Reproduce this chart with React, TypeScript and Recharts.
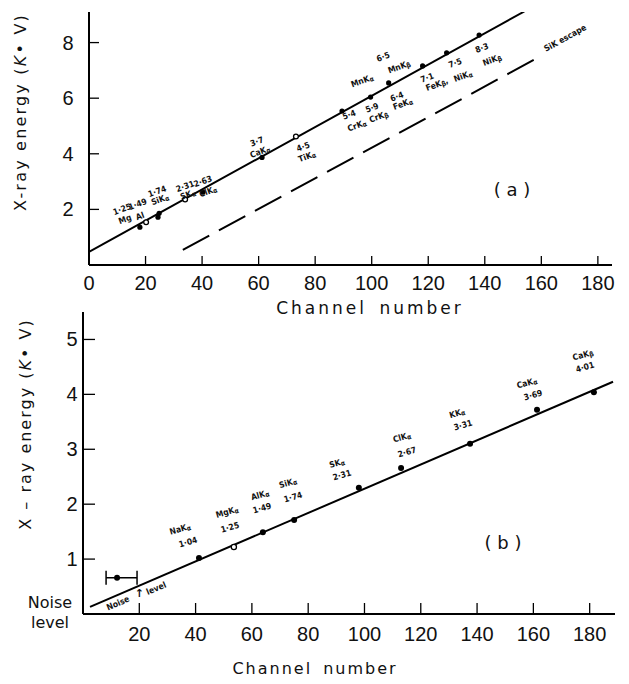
import React from 'react';
import { ScatterChart, Scatter, XAxis, YAxis, ErrorBar } from 'recharts';

const FONT = '"DejaVu Sans", sans-serif';
const TICK_FONT = '"Liberation Sans", Arial, sans-serif';
const SMALL_FONT = '"Liberation Sans Narrow", "DejaVu Sans Condensed", "Liberation Sans", sans-serif';

// ---------- Panel (a) ----------
const aTicksX = [0, 20, 40, 60, 80, 100, 120, 140, 160, 180];
const aTicksY = [2, 4, 6, 8];
const aFit = [
  { ch: 0, e: 0.47 },
  { ch: 154, e: 9.12 },
];
const aEscape = [
  { ch: 33.2, e: 0.54 },
  { ch: 157.4, e: 7.38 },
];
const aFilled = [
  { ch: 18.0, e: 1.36 },
  { ch: 24.4, e: 1.72 },
  { ch: 24.8, e: 1.86 },
  { ch: 40.3, e: 2.62 },
  { ch: 61.2, e: 3.87 },
  { ch: 89.5, e: 5.54 },
  { ch: 99.6, e: 6.04 },
  { ch: 106.0, e: 6.55 },
  { ch: 118.0, e: 7.16 },
  { ch: 126.5, e: 7.63 },
  { ch: 138.0, e: 8.27 },
];
const aOpen = [
  { ch: 20.2, e: 1.54 },
  { ch: 34.0, e: 2.36 },
  { ch: 73.2, e: 4.62 },
];
const aLabels = [
  { ch: 11.7, e: 2.01, text: '1·25' },
  { ch: 12.7, e: 1.65, text: 'Mg' },
  { ch: 17.2, e: 2.19, text: '1·49' },
  { ch: 18.0, e: 1.76, text: 'Al' },
  { ch: 24.1, e: 2.65, text: '1·74' },
  { ch: 25.1, e: 2.36, text: 'SiKα' },
  { ch: 34.0, e: 2.83, text: '2·31' },
  { ch: 35.0, e: 2.54, text: 'SKα' },
  { ch: 40.3, e: 3.01, text: '2·63' },
  { ch: 42.1, e: 2.65, text: 'ClKα' },
  { ch: 59.4, e: 4.44, text: '3·7' },
  { ch: 60.5, e: 4.08, text: 'CaKα' },
  { ch: 75.7, e: 4.26, text: '4·5' },
  { ch: 77.1, e: 3.91, text: 'TiKα' },
  { ch: 92.0, e: 5.41, text: '5·4' },
  { ch: 94.8, e: 5.02, text: 'CrKα' },
  { ch: 100.1, e: 5.66, text: '5·9' },
  { ch: 102.5, e: 5.34, text: 'CrKβ' },
  { ch: 108.9, e: 6.06, text: '6·4' },
  { ch: 111.0, e: 5.80, text: 'FeKα' },
  { ch: 96.6, e: 6.63, text: 'MnKα' },
  { ch: 104.0, e: 7.49, text: '6·5' },
  { ch: 109.7, e: 7.13, text: 'MnKβ' },
  { ch: 119.6, e: 6.74, text: '7·1' },
  { ch: 123.1, e: 6.50, text: 'FeKβ,' },
  { ch: 129.5, e: 7.27, text: '7·5' },
  { ch: 132.3, e: 6.80, text: 'NiKα' },
  { ch: 139.0, e: 7.81, text: '8·3' },
  { ch: 142.6, e: 7.38, text: 'NiKβ' },
];
const aEscapeLabel = [{ ch: 168.4, e: 8.17, text: 'SiK escape' }];
const aTag = [{ ch: 149.6, e: 2.72, text: '( a )' }];

// ---------- Panel (b) ----------
const bTicksX = [20, 40, 60, 80, 100, 120, 140, 160, 180];
const bTicksY = [0, 1, 2, 3, 4, 5];
const bFit = [
  { ch: 2.5, e: 0.13 },
  { ch: 188.3, e: 4.23 },
];
const bFilled = [
  { ch: 41.2, e: 1.02 },
  { ch: 63.9, e: 1.49 },
  { ch: 75.0, e: 1.71 },
  { ch: 98.0, e: 2.30 },
  { ch: 113.0, e: 2.66 },
  { ch: 137.5, e: 3.10 },
  { ch: 161.3, e: 3.72 },
  { ch: 181.5, e: 4.04 },
];
const bOpen = [{ ch: 53.6, e: 1.22 }];
const bNoise = [{ ch: 12.1, e: 0.66, err: [3.9, 7.1] }];
const bLabels = [
  { ch: 34.5, e: 1.55, text: 'NaKα' },
  { ch: 37.3, e: 1.31, text: '1·04' },
  { ch: 51.2, e: 1.86, text: 'MgKα' },
  { ch: 52.2, e: 1.58, text: '1·25' },
  { ch: 62.9, e: 2.17, text: 'AlKα' },
  { ch: 63.6, e: 1.93, text: '1·49' },
  { ch: 72.8, e: 2.39, text: 'SiKα' },
  { ch: 74.6, e: 2.13, text: '1·74' },
  { ch: 90.2, e: 2.75, text: 'SKα' },
  { ch: 92.0, e: 2.53, text: '2·31' },
  { ch: 113.3, e: 3.22, text: 'ClKα' },
  { ch: 115.1, e: 2.95, text: '2·67' },
  { ch: 132.9, e: 3.66, text: 'KKα' },
  { ch: 135.0, e: 3.44, text: '3·31' },
  { ch: 157.7, e: 4.21, text: 'CaKα' },
  { ch: 159.9, e: 3.99, text: '3·69' },
  { ch: 177.6, e: 4.72, text: 'CaKβ' },
  { ch: 178.3, e: 4.50, text: '4·01' },
];
const bNoiseLabels = [
  { ch: 12.4, e: 0.2, text: 'Noise' },
  { ch: 26.0, e: 0.47, text: 'level' },
];
const bArrow = [{ ch: 20, e: 0.37, text: '↑' }];
const bTag = [{ ch: 149.2, e: 1.31, text: '( b )' }];

// ---------- helpers ----------
const renderText = (t: string) => {
  const last = t.slice(-1);
  if (last === 'α' || last === 'β') {
    return (
      <>
        {t.slice(0, -1)}
        <tspan fontSize="80%" dy="0.3em">
          {last}
        </tspan>
      </>
    );
  }
  if (t.endsWith('β,')) {
    return (
      <>
        {t.slice(0, -2)}
        <tspan fontSize="80%" dy="0.3em">β</tspan>
        <tspan dy="-0.3em">,</tspan>
      </>
    );
  }
  return t;
};

const textShape =
  (angle: number, size: number, weight: string | number, family: string) =>
  (props: any) => {
    const { cx, cy, payload } = props;
    if (cx == null || cy == null) return <g />;
    return (
      <text
        x={cx}
        y={cy}
        transform={`rotate(${angle} ${cx} ${cy})`}
        textAnchor="middle"
        dominantBaseline="central"
        fontSize={size}
        fontWeight={weight}
        fontFamily={family}
        fill="#111"
      >
        {renderText(payload.text)}
      </text>
    );
  };

const filledDot = (r: number) => (p: any) =>
  <circle cx={p.cx} cy={p.cy} r={r} fill="#000" />;
const openDot = (r: number) => (p: any) =>
  <circle cx={p.cx} cy={p.cy} r={r} fill="#fff" stroke="#000" strokeWidth={1.3} />;
const noShape = () => <g />;

const xTick = (len: number, off: number) => (props: any) => {
  const { x, y, payload } = props;
  return (
    <g>
      <line x1={x} x2={x} y1={y} y2={y - len} stroke="#000" strokeWidth={1.3} />
      <text x={x} y={y + off} textAnchor="middle" fontSize={20} fontFamily={TICK_FONT} fill="#111">
        {payload.value}
      </text>
    </g>
  );
};

const yTickA = (props: any) => {
  const { x, y, payload } = props;
  return (
    <g>
      <line x1={x} x2={x + 10} y1={y} y2={y} stroke="#000" strokeWidth={1.3} />
      <text x={x - 21} y={y} textAnchor="middle" dominantBaseline="central" fontSize={20} fontFamily={TICK_FONT} fill="#111">
        {payload.value}
      </text>
    </g>
  );
};

const yTickB = (props: any) => {
  const { x, y, payload } = props;
  if (payload.value === 0) {
    return (
      <g>
        <text x={x - 33} y={y - 12} textAnchor="middle" dominantBaseline="central" fontSize={16} fontFamily={FONT} fill="#111">
          Noise
        </text>
        <text x={x - 33} y={y + 8} textAnchor="middle" dominantBaseline="central" fontSize={16} fontFamily={FONT} fill="#111">
          level
        </text>
      </g>
    );
  }
  return (
    <g>
      <line x1={x} x2={x + 12} y1={y} y2={y} stroke="#000" strokeWidth={1.3} />
      <text x={x - 11} y={y} textAnchor="middle" dominantBaseline="central" fontSize={20} fontFamily={TICK_FONT} fill="#111">
        {payload.value}
      </text>
    </g>
  );
};

const yTitle = (cx: number, cy: number, lead: string, spacing: number) => () =>
  (
    <text
      x={cx}
      y={cy}
      transform={`rotate(-90 ${cx} ${cy})`}
      textAnchor="middle"
      dominantBaseline="central"
      fontSize={16}
      fontFamily={FONT}
      letterSpacing={spacing}
      fill="#111"
    >
      {lead}
      <tspan fontStyle="italic">K</tspan>
      {'• V)'}
    </text>
  );

const xTitle = (cx: number, cy: number, size: number, spacing: number) => () =>
  (
    <text
      x={cx}
      y={cy}
      textAnchor="middle"
      dominantBaseline="central"
      fontSize={size}
      fontFamily={FONT}
      letterSpacing={spacing}
      wordSpacing={4}
      fill="#111"
    >
      Channel number
    </text>
  );

const axisLine = { stroke: '#000', strokeWidth: 2 };

export default function App() {
  return (
    <div style={{ position: 'absolute', left: 0, top: 0, width: 629, height: 684, background: '#fff' }}>
      <div style={{ position: 'absolute', left: 0, top: 0 }}>
        <ScatterChart width={629} height={322} margin={{ top: 12, right: 17, left: 0, bottom: 0 }}>
          <XAxis
            type="number"
            dataKey="ch"
            domain={[0, 185]}
            allowDataOverflow
            ticks={aTicksX}
            interval={0}
            height={57}
            tickSize={0}
            tickMargin={0}
            tickLine={false}
            axisLine={axisLine}
            tick={xTick(9, 25)}
            label={{ content: xTitle(370, 308, 17, 3) }}
          />
          <YAxis
            type="number"
            dataKey="e"
            domain={[0, 9.1]}
            allowDataOverflow
            ticks={aTicksY}
            interval={0}
            width={89}
            tickSize={0}
            tickMargin={0}
            tickLine={false}
            axisLine={axisLine}
            tick={yTickA}
            label={{ content: yTitle(20, 112, 'X-ray energy  (', 2.2) }}
          />
          <Scatter data={aFit} line={{ stroke: '#000', strokeWidth: 2 }} shape={noShape} isAnimationActive={false} />
          <Scatter
            data={aEscape}
            line={{ stroke: '#000', strokeWidth: 2, strokeDasharray: '30 11' }}
            shape={noShape}
            isAnimationActive={false}
          />
          <Scatter data={aFilled} shape={filledDot(2.6)} isAnimationActive={false} />
          <Scatter data={aOpen} shape={openDot(2.4)} isAnimationActive={false} />
          <Scatter data={aLabels} shape={textShape(-20, 8.5, 'bold', SMALL_FONT)} isAnimationActive={false} />
          <Scatter data={aEscapeLabel} shape={textShape(-29, 8.5, 'bold', SMALL_FONT)} isAnimationActive={false} />
          <Scatter data={aTag} shape={textShape(0, 18, 'normal', FONT)} isAnimationActive={false} />
        </ScatterChart>
      </div>
      <div style={{ position: 'absolute', left: 0, top: 296 }}>
        <ScatterChart width={629} height={388} margin={{ top: 16, right: 14, left: 0, bottom: 0 }}>
          <XAxis
            type="number"
            dataKey="ch"
            domain={[0, 189]}
            allowDataOverflow
            ticks={bTicksX}
            interval={0}
            height={70}
            tickSize={0}
            tickMargin={0}
            tickLine={false}
            axisLine={axisLine}
            tick={xTick(11, 27)}
            label={{ content: xTitle(315, 372, 16, 2) }}
          />
          <YAxis
            type="number"
            dataKey="e"
            domain={[0, 5.5]}
            allowDataOverflow
            ticks={bTicksY}
            interval={0}
            width={83}
            tickSize={0}
            tickMargin={0}
            tickLine={false}
            axisLine={axisLine}
            tick={yTickB}
            label={{ content: yTitle(25, 128, 'X – ray energy  (', 2.0) }}
          />
          <Scatter data={bFit} line={{ stroke: '#000', strokeWidth: 2 }} shape={noShape} isAnimationActive={false} />
          <Scatter data={bFilled} shape={filledDot(3)} isAnimationActive={false} />
          <Scatter data={bOpen} shape={openDot(2.6)} isAnimationActive={false} />
          <Scatter data={bNoise} shape={filledDot(3)} isAnimationActive={false}>
            <ErrorBar dataKey="err" direction="x" width={7} stroke="#000" strokeWidth={1.5} />
          </Scatter>
          <Scatter data={bLabels} shape={textShape(-16, 8.5, 'bold', SMALL_FONT)} isAnimationActive={false} />
          <Scatter data={bNoiseLabels} shape={textShape(-23, 8.5, 'bold', SMALL_FONT)} isAnimationActive={false} />
          <Scatter data={bArrow} shape={textShape(0, 11, 'bold', FONT)} isAnimationActive={false} />
          <Scatter data={bTag} shape={textShape(0, 18, 'normal', FONT)} isAnimationActive={false} />
        </ScatterChart>
      </div>
    </div>
  );
}
